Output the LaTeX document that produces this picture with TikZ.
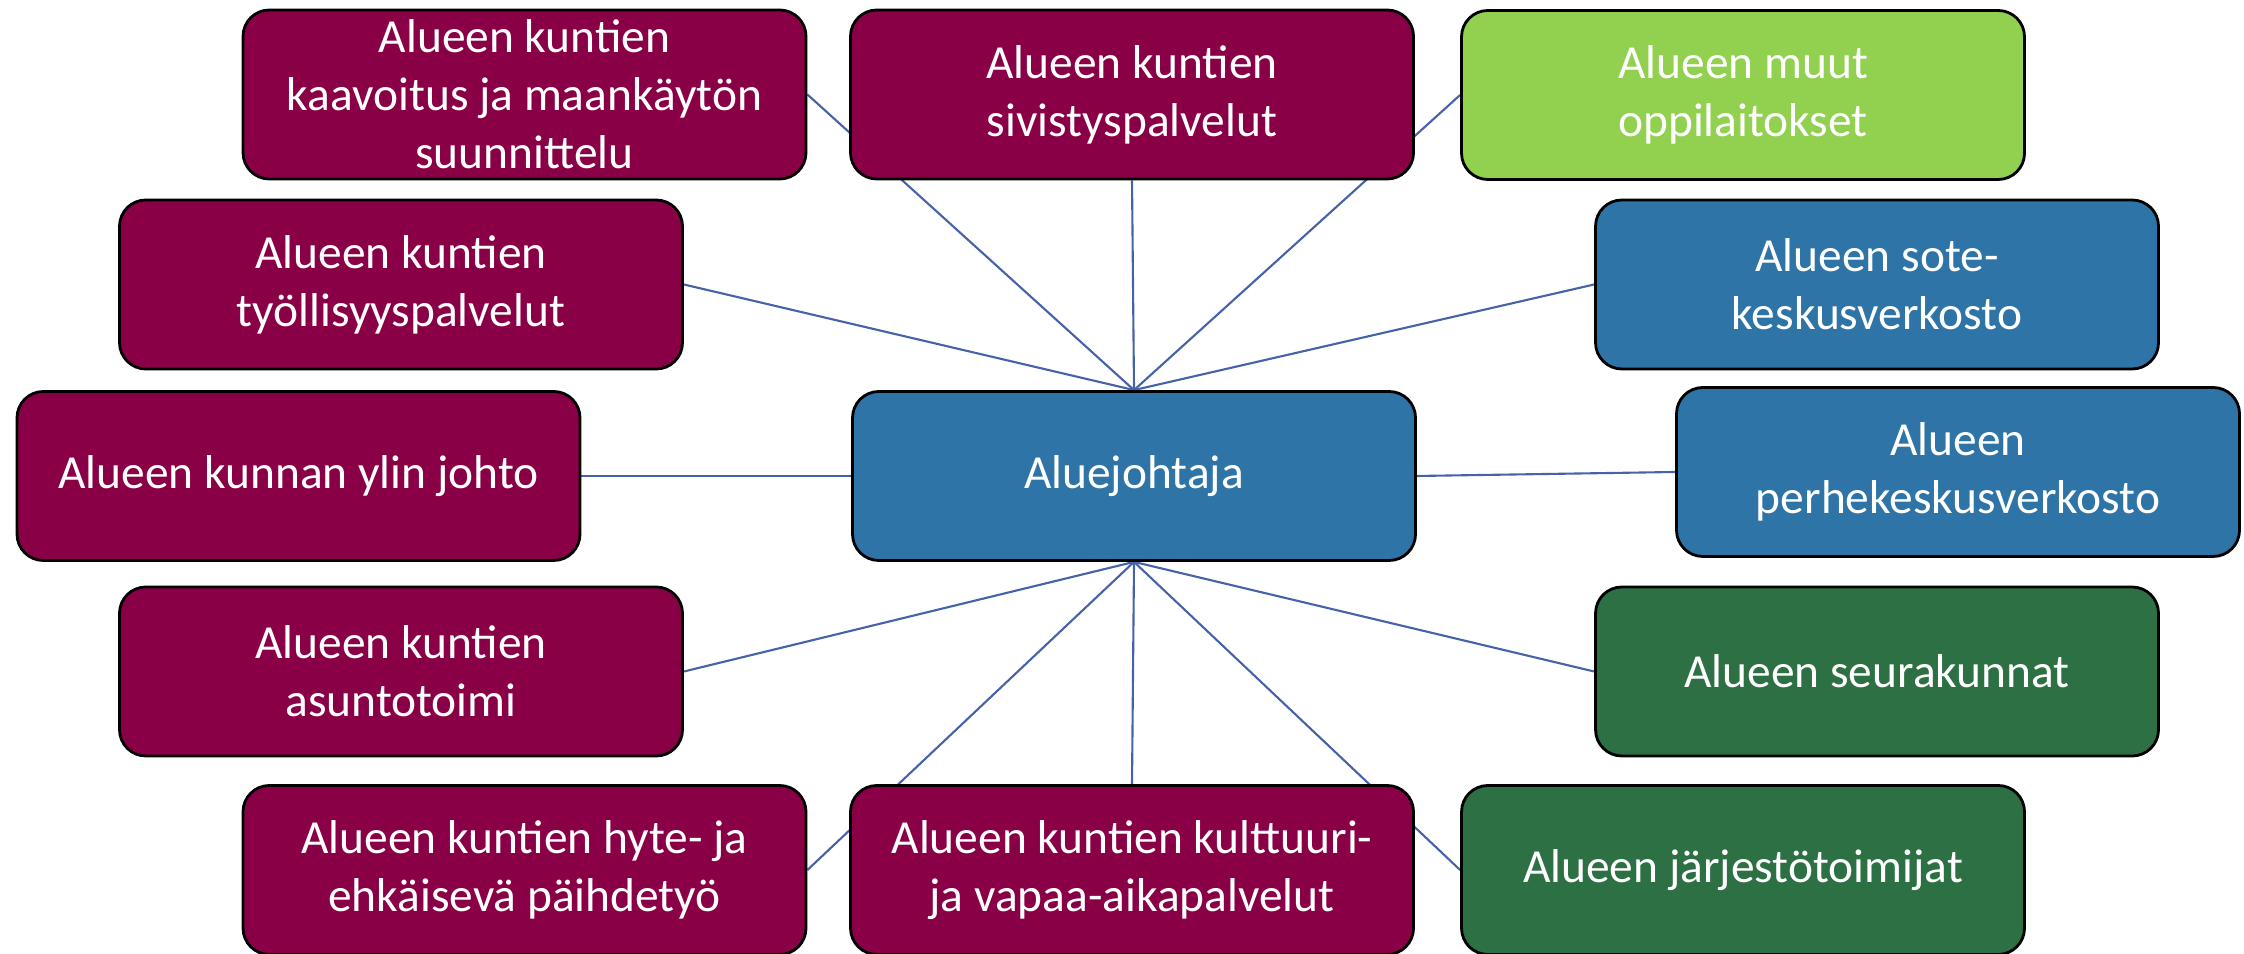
\documentclass[tikz,border=0pt]{standalone}
\usepackage{fontspec}
\setmainfont{Carlito}
\usepackage{tikz}
\usetikzlibrary{positioning,backgrounds}
\definecolor{Wine}{HTML}{8A0046}
\definecolor{Sea}{HTML}{2E74A6}
\definecolor{Lime}{HTML}{92D050}
\definecolor{Forest}{HTML}{2C7043}
\definecolor{Wire}{HTML}{4662A8}

\begin{document}
\begin{tikzpicture}[x=1cm,y=1cm,
  box/.style={draw=black,line width=0.8pt,rounded corners=7.5pt,minimum width=5.63cm,minimum height=1.69cm,
    inner sep=2pt,align=center,text=white,font=\fontsize{13.5}{16.5}\selectfont},
  link/.style={draw=Wire,line width=0.6pt}]
\path[use as bounding box] (0,0) rectangle (22.44,9.53);

% centre
\node[box,fill=Sea] (alue) at (11.34,4.77) {Aluejohtaja};

% municipal services
\foreach \nm/\x/\y/\txt in {kaav/5.245/8.585/{Alueen kuntien\\kaavoitus ja maankäytön\\suunnittelu},
  siv/11.32/8.585/{Alueen kuntien\\sivistyspalvelut},
  tyo/4.01/6.685/{Alueen kuntien\\työllisyyspalvelut},
  ylin/2.985/4.77/{Alueen kunnan ylin johto},
  asunto/4.01/2.815/{Alueen kuntien\\asuntotoimi},
  hyte/5.245/0.83/{Alueen kuntien hyte- ja\\ehkäisevä päihdetyö},
  kult/11.32/0.83/{Alueen kuntien kulttuuri-\\ja vapaa-aikapalvelut}}{
  \node[box,fill=Wine] (\nm) at (\x,\y) {\txt};
}

% other partners
\node[box,fill=Lime] (muut) at (17.43,8.58) {Alueen muut\\oppilaitokset};
\node[box,fill=Sea] (sote) at (18.77,6.685) {Alueen sote-\\keskusverkosto};
\node[box,fill=Sea] (perhe) at (19.58,4.81) {Alueen\\perhekeskusverkosto};
\node[box,fill=Forest] (seura) at (18.77,2.815) {Alueen seurakunnat};
\node[box,fill=Forest] (jarj) at (17.43,0.83) {Alueen järjestötoimijat};

% spokes
\begin{scope}[on background layer]
\foreach \a/\b in {kaav.east/alue.north,siv.south/alue.north,muut.west/alue.north,
  tyo.east/alue.north,sote.west/alue.north,ylin.east/alue.west,alue.east/perhe.west,
  asunto.east/alue.south,seura.west/alue.south,hyte.east/alue.south,
  kult.north/alue.south,jarj.west/alue.south}{
  \draw[link] (\a) -- (\b);
}
\end{scope}
\end{tikzpicture}
\end{document}
